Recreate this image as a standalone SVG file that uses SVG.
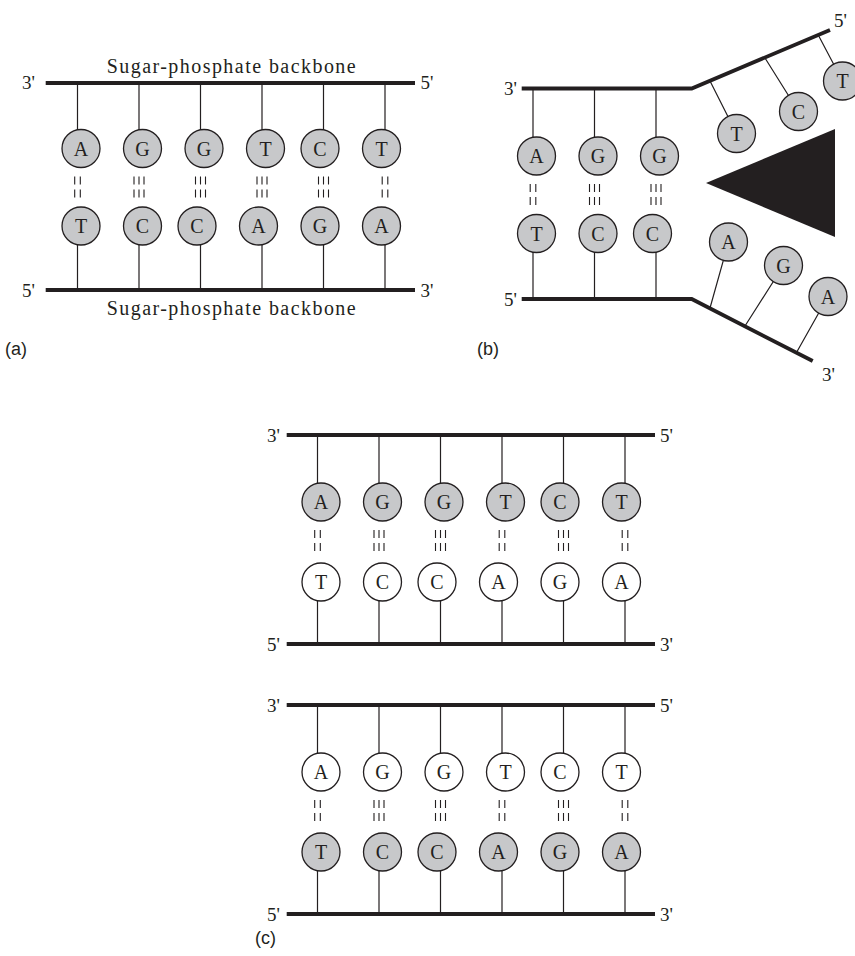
<svg xmlns="http://www.w3.org/2000/svg" width="855" height="956" viewBox="0 0 855 956">
  <style>
    .bb { fill: none; stroke: #231f20; stroke-width: 3.8; stroke-linejoin: miter; }
    .stem { fill: none; stroke: #231f20; stroke-width: 1.2; }
    .hb { fill: none; stroke: #231f20; stroke-width: 1.1; }
    .base circle { stroke: #231f20; stroke-width: 1.3; }
    .g circle { fill: #c7c8ca; }
    .w circle { fill: #ffffff; }
    .base text { font-family: "Liberation Serif", "Times New Roman", serif; font-size: 20px; fill: #231f20; text-anchor: middle; }
    .end { font-family: "Liberation Serif", "Times New Roman", serif; font-size: 19px; fill: #231f20; }
    .cap { font-family: "Liberation Serif", "Times New Roman", serif; font-size: 20px; fill: #231f20; }
    .panel { font-family: "Liberation Sans", Arial, sans-serif; font-size: 18px; fill: #231f20; }
  </style>
  <rect width="855" height="956" fill="#ffffff"/>

  <!-- sugar-phosphate backbones -->
  <g id="backbones">
    <path class="bb" d="M45.7 83 H415 M45.7 290 H415"/>
    <path class="bb" d="M521.7 88.5 H691.7 L830 30 M521.7 299 H691.7 L812.7 361"/>
    <path class="bb" d="M286.7 435 H655 M286.7 644 H655"/>
    <path class="bb" d="M286.7 705 H655 M286.7 914 H655"/>
  </g>

  <!-- stems and hydrogen bonds -->
  <g id="connectors">
    <!-- panel a -->
    <path class="stem" d="M77.5 83 V148.5 M139 83 V148.5 M200.5 83 V148.5 M262 83 V148.5 M323.5 83 V148.5 M385 83 V148.5
                          M77.5 226 V290 M139 226 V290 M200.5 226 V290 M262 226 V290 M323.5 226 V290 M385 226 V290"/>
    <path class="hb" d="M74.7 176.5 v8 M80.3 176.5 v8 M74.7 189.5 v8 M80.3 189.5 v8
                        M134 176.5 v8 M139 176.5 v8 M144 176.5 v8 M134 189.5 v8 M139 189.5 v8 M144 189.5 v8
                        M195.5 176.5 v8 M200.5 176.5 v8 M205.5 176.5 v8 M195.5 189.5 v8 M200.5 189.5 v8 M205.5 189.5 v8
                        M257 176.5 v8 M262 176.5 v8 M267 176.5 v8 M257 189.5 v8 M262 189.5 v8 M267 189.5 v8
                        M318.5 176.5 v8 M323.5 176.5 v8 M328.5 176.5 v8 M318.5 189.5 v8 M323.5 189.5 v8 M328.5 189.5 v8
                        M382.2 176.5 v8 M387.8 176.5 v8 M382.2 189.5 v8 M387.8 189.5 v8"/>
    <!-- panel b -->
    <path class="stem" d="M533 88.5 V156 M594.5 88.5 V156 M656 88.5 V156
                          M533 233.5 V299 M594.5 233.5 V299 M656 233.5 V299
                          M710 81 L736.5 133.5 M765 58 L798.5 111.5 M818.5 35.5 L842.5 81
                          M710 308 L728.5 242 M745 326 L783.5 265.5 M796.5 352.5 L828 296.5"/>
    <path class="hb" d="M530.2 184 v8 M535.8 184 v8 M530.2 197 v8 M535.8 197 v8
                        M589.5 184 v8 M594.5 184 v8 M599.5 184 v8 M589.5 197 v8 M594.5 197 v8 M599.5 197 v8
                        M651 184 v8 M656 184 v8 M661 184 v8 M651 197 v8 M656 197 v8 M661 197 v8"/>
    <!-- panel c, upper duplex -->
    <path class="stem" d="M317.5 435 V502 M379 435 V502 M440.5 435 V502 M502 435 V502 M563.5 435 V502 M625 435 V502
                          M317.5 582 V644 M379 582 V644 M440.5 582 V644 M502 582 V644 M563.5 582 V644 M625 582 V644"/>
    <path class="hb" d="M314.7 530 v8 M320.3 530 v8 M314.7 543 v8 M320.3 543 v8
                        M374 530 v8 M379 530 v8 M384 530 v8 M374 543 v8 M379 543 v8 M384 543 v8
                        M435.5 530 v8 M440.5 530 v8 M445.5 530 v8 M435.5 543 v8 M440.5 543 v8 M445.5 543 v8
                        M499.2 530 v8 M504.8 530 v8 M499.2 543 v8 M504.8 543 v8
                        M558.5 530 v8 M563.5 530 v8 M568.5 530 v8 M558.5 543 v8 M563.5 543 v8 M568.5 543 v8
                        M622.2 530 v8 M627.8 530 v8 M622.2 543 v8 M627.8 543 v8"/>
    <!-- panel c, lower duplex -->
    <path class="stem" d="M317.5 705 V772 M379 705 V772 M440.5 705 V772 M502 705 V772 M563.5 705 V772 M625 705 V772
                          M317.5 852 V914 M379 852 V914 M440.5 852 V914 M502 852 V914 M563.5 852 V914 M625 852 V914"/>
    <path class="hb" d="M314.7 800 v8 M320.3 800 v8 M314.7 813 v8 M320.3 813 v8
                        M374 800 v8 M379 800 v8 M384 800 v8 M374 813 v8 M379 813 v8 M384 813 v8
                        M435.5 800 v8 M440.5 800 v8 M445.5 800 v8 M435.5 813 v8 M440.5 813 v8 M445.5 813 v8
                        M499.2 800 v8 M504.8 800 v8 M499.2 813 v8 M504.8 813 v8
                        M558.5 800 v8 M563.5 800 v8 M568.5 800 v8 M558.5 813 v8 M563.5 813 v8 M568.5 813 v8
                        M622.2 800 v8 M627.8 800 v8 M622.2 813 v8 M627.8 813 v8"/>
  </g>

  <!-- wedge opening the helix -->
  <polygon id="wedge" points="706,183 835,129 835,237" fill="#231f20"/>

  <!-- panel a bases -->
  <g id="a-top-1" class="base g"><circle cx="81" cy="148.5" r="19"/><text x="81" y="155.5">A</text></g>
  <g id="a-top-2" class="base g"><circle cx="142.5" cy="148.5" r="19"/><text x="142.5" y="155.5">G</text></g>
  <g id="a-top-3" class="base g"><circle cx="204" cy="148.5" r="19"/><text x="204" y="155.5">G</text></g>
  <g id="a-top-4" class="base g"><circle cx="265.5" cy="148.5" r="19"/><text x="265.5" y="155.5">T</text></g>
  <g id="a-top-5" class="base g"><circle cx="320" cy="148.5" r="19"/><text x="320" y="155.5">C</text></g>
  <g id="a-top-6" class="base g"><circle cx="381.5" cy="148.5" r="19"/><text x="381.5" y="155.5">T</text></g>
  <g id="a-bot-1" class="base g"><circle cx="81" cy="226" r="19"/><text x="81" y="233">T</text></g>
  <g id="a-bot-2" class="base g"><circle cx="142.5" cy="226" r="19"/><text x="142.5" y="233">C</text></g>
  <g id="a-bot-3" class="base g"><circle cx="197" cy="226" r="19"/><text x="197" y="233">C</text></g>
  <g id="a-bot-4" class="base g"><circle cx="258.5" cy="226" r="19"/><text x="258.5" y="233">A</text></g>
  <g id="a-bot-5" class="base g"><circle cx="320" cy="226" r="19"/><text x="320" y="233">G</text></g>
  <g id="a-bot-6" class="base g"><circle cx="381.5" cy="226" r="19"/><text x="381.5" y="233">A</text></g>

  <!-- panel b bases -->
  <g id="b-top-1" class="base g"><circle cx="536.5" cy="156" r="19"/><text x="536.5" y="163">A</text></g>
  <g id="b-top-2" class="base g"><circle cx="598" cy="156" r="19"/><text x="598" y="163">G</text></g>
  <g id="b-top-3" class="base g"><circle cx="659.5" cy="156" r="19"/><text x="659.5" y="163">G</text></g>
  <g id="b-bot-1" class="base g"><circle cx="536.5" cy="233.5" r="19"/><text x="536.5" y="240.5">T</text></g>
  <g id="b-bot-2" class="base g"><circle cx="598" cy="233.5" r="19"/><text x="598" y="240.5">C</text></g>
  <g id="b-bot-3" class="base g"><circle cx="652.5" cy="233.5" r="19"/><text x="652.5" y="240.5">C</text></g>
  <g id="b-open-top-1" class="base g"><circle cx="736.5" cy="133.5" r="19"/><text x="736.5" y="140.5">T</text></g>
  <g id="b-open-top-2" class="base g"><circle cx="798.5" cy="111.5" r="19"/><text x="798.5" y="118.5">C</text></g>
  <g id="b-open-top-3" class="base g"><circle cx="842.5" cy="81" r="19"/><text x="842.5" y="88">T</text></g>
  <g id="b-open-bot-1" class="base g"><circle cx="728.5" cy="242" r="19"/><text x="728.5" y="249">A</text></g>
  <g id="b-open-bot-2" class="base g"><circle cx="783.5" cy="265.5" r="19"/><text x="783.5" y="272.5">G</text></g>
  <g id="b-open-bot-3" class="base g"><circle cx="828" cy="296.5" r="19"/><text x="828" y="303.5">A</text></g>

  <!-- panel c, upper duplex: old strand grey, new strand white -->
  <g id="c1-top-1" class="base g"><circle cx="321" cy="502" r="19"/><text x="321" y="509">A</text></g>
  <g id="c1-top-2" class="base g"><circle cx="382.5" cy="502" r="19"/><text x="382.5" y="509">G</text></g>
  <g id="c1-top-3" class="base g"><circle cx="444" cy="502" r="19"/><text x="444" y="509">G</text></g>
  <g id="c1-top-4" class="base g"><circle cx="505.5" cy="502" r="19"/><text x="505.5" y="509">T</text></g>
  <g id="c1-top-5" class="base g"><circle cx="560" cy="502" r="19"/><text x="560" y="509">C</text></g>
  <g id="c1-top-6" class="base g"><circle cx="621.5" cy="502" r="19"/><text x="621.5" y="509">T</text></g>
  <g id="c1-bot-1" class="base w"><circle cx="321" cy="582" r="19"/><text x="321" y="589">T</text></g>
  <g id="c1-bot-2" class="base w"><circle cx="382.5" cy="582" r="19"/><text x="382.5" y="589">C</text></g>
  <g id="c1-bot-3" class="base w"><circle cx="437" cy="582" r="19"/><text x="437" y="589">C</text></g>
  <g id="c1-bot-4" class="base w"><circle cx="498.5" cy="582" r="19"/><text x="498.5" y="589">A</text></g>
  <g id="c1-bot-5" class="base w"><circle cx="560" cy="582" r="19"/><text x="560" y="589">G</text></g>
  <g id="c1-bot-6" class="base w"><circle cx="621.5" cy="582" r="19"/><text x="621.5" y="589">A</text></g>

  <!-- panel c, lower duplex: new strand white, old strand grey -->
  <g id="c2-top-1" class="base w"><circle cx="321" cy="772" r="19"/><text x="321" y="779">A</text></g>
  <g id="c2-top-2" class="base w"><circle cx="382.5" cy="772" r="19"/><text x="382.5" y="779">G</text></g>
  <g id="c2-top-3" class="base w"><circle cx="444" cy="772" r="19"/><text x="444" y="779">G</text></g>
  <g id="c2-top-4" class="base w"><circle cx="505.5" cy="772" r="19"/><text x="505.5" y="779">T</text></g>
  <g id="c2-top-5" class="base w"><circle cx="560" cy="772" r="19"/><text x="560" y="779">C</text></g>
  <g id="c2-top-6" class="base w"><circle cx="621.5" cy="772" r="19"/><text x="621.5" y="779">T</text></g>
  <g id="c2-bot-1" class="base g"><circle cx="321" cy="852" r="19"/><text x="321" y="859">T</text></g>
  <g id="c2-bot-2" class="base g"><circle cx="382.5" cy="852" r="19"/><text x="382.5" y="859">C</text></g>
  <g id="c2-bot-3" class="base g"><circle cx="437" cy="852" r="19"/><text x="437" y="859">C</text></g>
  <g id="c2-bot-4" class="base g"><circle cx="498.5" cy="852" r="19"/><text x="498.5" y="859">A</text></g>
  <g id="c2-bot-5" class="base g"><circle cx="560" cy="852" r="19"/><text x="560" y="859">G</text></g>
  <g id="c2-bot-6" class="base g"><circle cx="621.5" cy="852" r="19"/><text x="621.5" y="859">A</text></g>

  <!-- strand end labels -->
  <g id="end-labels">
    <text class="end" x="22" y="89">3'</text>
    <text class="end" x="420.5" y="89">5'</text>
    <text class="end" x="22" y="296.5">5'</text>
    <text class="end" x="420.5" y="296.5">3'</text>

    <text class="end" x="504" y="95">3'</text>
    <text class="end" x="504" y="305.5">5'</text>
    <text class="end" x="834" y="26.5">5'</text>
    <text class="end" x="822" y="381">3'</text>

    <text class="end" x="267" y="441.5">3'</text>
    <text class="end" x="660" y="441.5">5'</text>
    <text class="end" x="267" y="650.5">5'</text>
    <text class="end" x="660" y="650.5">3'</text>

    <text class="end" x="267" y="711.5">3'</text>
    <text class="end" x="660" y="711.5">5'</text>
    <text class="end" x="267" y="920.5">5'</text>
    <text class="end" x="660" y="920.5">3'</text>
  </g>

  <g id="captions">
    <text class="cap" x="106.7" y="73" textLength="249" lengthAdjust="spacing">Sugar-phosphate backbone</text>
    <text class="cap" x="106.7" y="315" textLength="249" lengthAdjust="spacing">Sugar-phosphate backbone</text>
    <text class="panel" x="5" y="355">(a)</text>
    <text class="panel" x="477" y="355">(b)</text>
    <text class="panel" x="255" y="944">(c)</text>
  </g>
</svg>
